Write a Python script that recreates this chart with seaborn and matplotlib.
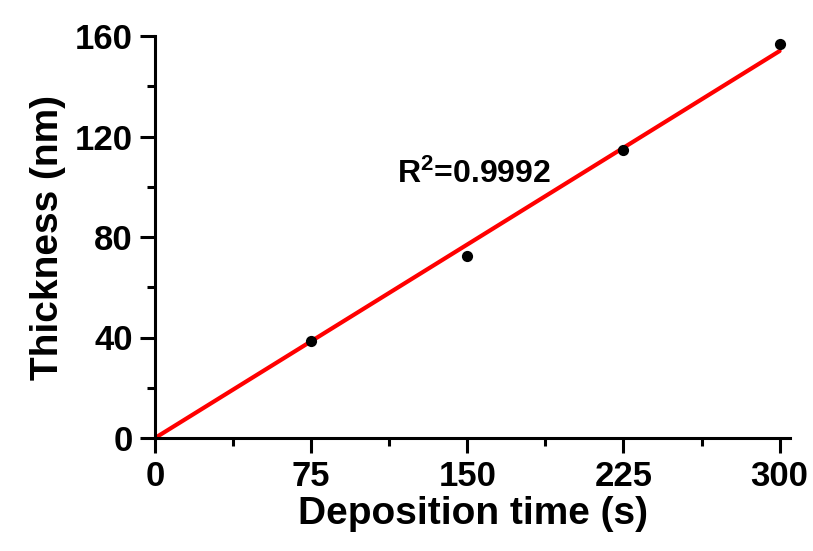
import numpy as np
import pandas as pd
import matplotlib
matplotlib.use("Agg")
import matplotlib.pyplot as plt
import seaborn as sns
from matplotlib.ticker import MultipleLocator

# Data
time_s = [75, 150, 225, 300]
thickness_nm = [38.6, 72.4, 114.6, 157.0]
r2_label = "0.9992"
x_ticks = [0, 75, 150, 225, 300]
y_ticks = [0, 40, 80, 120, 160]

sns.set_style("ticks", {"axes.edgecolor": "black", "xtick.color": "black",
                        "ytick.color": "black", "text.color": "black",
                        "axes.labelcolor": "black"})
plt.rcParams['font.family'] = ['Liberation Sans', 'DejaVu Sans']
plt.rcParams['font.weight'] = 'bold'
plt.rcParams['mathtext.fontset'] = 'custom'
plt.rcParams['mathtext.rm'] = 'Liberation Sans:bold'
plt.rcParams['mathtext.bf'] = 'Liberation Sans:bold'
plt.rcParams['mathtext.default'] = 'bf'

df = pd.DataFrame({"time": time_s, "thickness": thickness_nm})

# Linear fit through origin
x = np.array(time_s, float)
y = np.array(thickness_nm, float)
slope = (x * y).sum() / (x * x).sum()
fit_x = np.array([0, 300.0])
fit_df = pd.DataFrame({"time": fit_x, "thickness": slope * fit_x})

fig = plt.figure(figsize=(8.13, 5.51), dpi=100)
ax = fig.add_axes([155/813, 1 - 438/551, 635/813, 402/551])

sns.lineplot(data=fit_df, x="time", y="thickness", color="#ff0000", lw=3, ax=ax, zorder=2)
sns.scatterplot(data=df, x="time", y="thickness", color="black", s=65, edgecolor="black",
                linewidth=0, ax=ax, zorder=3, clip_on=False)

ax.set_xlim(0, 305)
ax.set_ylim(0, 160)
ax.set_xticks(x_ticks)
ax.set_yticks(y_ticks)
ax.xaxis.set_minor_locator(MultipleLocator(37.5))
ax.yaxis.set_minor_locator(MultipleLocator(20))

sns.despine(ax=ax)
for s in ["left", "bottom"]:
    ax.spines[s].set_linewidth(2.2)
    ax.spines[s].set_color("black")
ax.tick_params(which="major", direction="out", length=11, width=2.2, labelsize=25, pad=5,
               colors="black")
ax.tick_params(which="minor", direction="out", length=6, width=2.2, colors="black")
for lab in ax.get_xticklabels() + ax.get_yticklabels():
    lab.set_fontweight("bold")

ax.set_xlabel("Deposition time (s)", fontsize=28, fontweight="bold", labelpad=2, color="black")
ax.set_ylabel("Thickness (nm)", fontsize=28, fontweight="bold", labelpad=6, color="black")

ax.text(116, 105, r"R$^{2}$=" + r2_label, fontsize=23, fontweight="bold", ha="left",
        va="center", color="black")

fig.savefig("out.png", dpi=100)
